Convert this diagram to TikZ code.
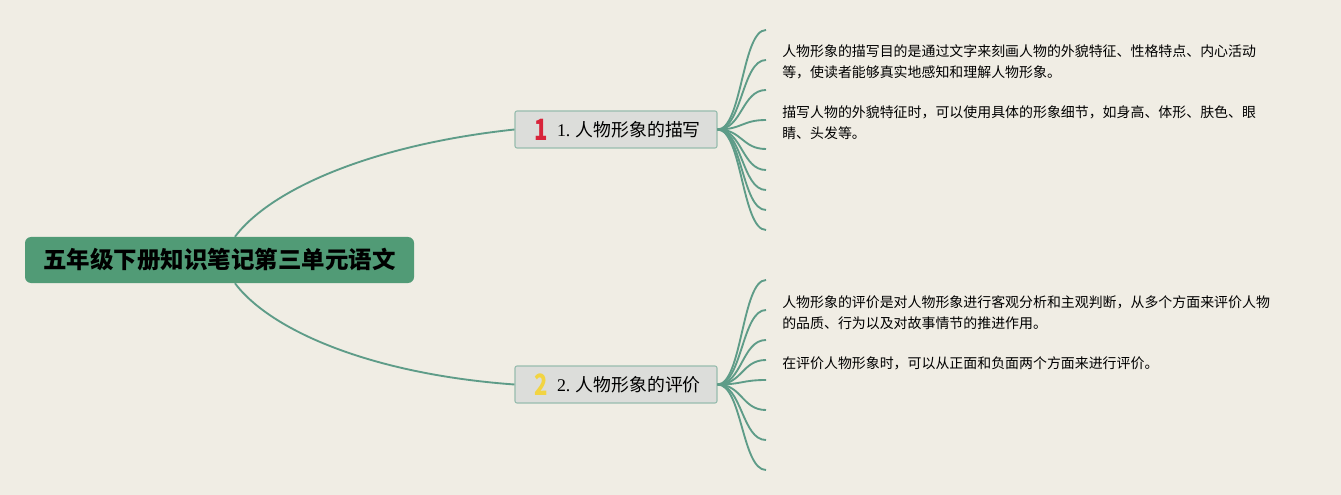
\documentclass[tikz,border=0pt]{standalone}
\usepackage{fontspec}
\setmainfont{Noto Sans CJK SC}
\newfontfamily\cjk{Noto Sans CJK SC}
\newfontfamily\numfont{Liberation Serif}
\usepackage{xcolor}
\usepackage{tikz}
\usetikzlibrary{positioning,calc}
\definecolor{bgcol}{HTML}{F0EDE4}
\definecolor{linkcol}{HTML}{5E9C88}
\definecolor{rootcol}{HTML}{519B76}
\definecolor{subcol}{HTML}{DCDDDA}
\definecolor{subline}{HTML}{97BCAE}
\definecolor{iconred}{HTML}{D8243A}
\definecolor{iconyel}{HTML}{F2D442}
\tikzset{
  root/.style={fill=rootcol,rounded corners=4.5pt,minimum width=291.75pt,
              minimum height=34.5pt,font=\cjk\fontsize{17.6}{20}\selectfont\bfseries},
  topic/.style={draw=subline,fill=subcol,thick,rounded corners=1.5pt,
              minimum width=151.5pt,minimum height=27.75pt,inner sep=0pt,
              font=\cjk\fontsize{13.4}{15}\selectfont},
  note/.style={anchor=north west,inner sep=0pt,align=left,
              font=\cjk\fontsize{10.45}{15.75}\selectfont},
  icon/.style={font=\cjk\fontsize{22}{22}\selectfont\bfseries,inner sep=0pt,xscale=0.75},
  branch/.style={linkcol,line width=1.4pt},
  twig/.style={linkcol,line width=1.4pt},
}
\newcommand{\topictext}[2]{\makebox[151.5pt][l]{\hspace*{31.5pt}{\numfont #1} #2}}

\begin{document}
\begin{tikzpicture}[x=0.75pt,y=-0.75pt]
  \fill[bgcol] (0,0) rectangle (1341,495);
  \useasboundingbox (0,0) rectangle (1341,495);

  \node[root] (root) at (219.5,260) {五年级下册知识笔记第三单元语文};
  \node[topic] (t1) at (616,129.5) {\topictext{1.}{人物形象的描写}};
  \node[topic] (t2) at (616,384.5) {\topictext{2.}{人物形象的评价}};
  \node[icon,text=iconred] (i1) at (541,130) {1};
  \node[icon,text=iconyel] (i2) at (541,385) {2};

  % main branches
  \draw[branch] ([xshift=11.6pt]root.north) .. controls (270,190) and (370,145) .. (t1.west);
  \draw[branch] ([xshift=11.6pt]root.south) .. controls (270,330) and (370,374) .. (t2.west);

  % twigs
  \foreach \y [count=\i] in {30,60,90,120,149,170,190,210,230}{
    \coordinate (a\i) at (766,\y);
    \draw[twig] (t1.east) .. controls (742,129.5) and (742,\y) .. (a\i);
  }
  \foreach \y [count=\i] in {280,310,340,360,380,410,440,470}{
    \coordinate (b\i) at (766,\y);
    \draw[twig] (t2.east) .. controls (742,384.5) and (742,\y) .. (b\i);
  }

  % notes
  \node[note] (n1) at (782,44) {人物形象的描写目的是通过文字来刻画人物的外貌特征、性格特点、内心活动\\等，使读者能够真实地感知和理解人物形象。};
  \node[note] (n2) at (782,105) {描写人物的外貌特征时，可以使用具体的形象细节，如身高、体形、肤色、眼\\睛、头发等。};
  \node[note] (n3) at (782,295) {人物形象的评价是对人物形象进行客观分析和主观判断，从多个方面来评价人物\\的品质、行为以及对故事情节的推进作用。};
  \node[note] (n4) at (782,356) {在评价人物形象时，可以从正面和负面两个方面来进行评价。};
\end{tikzpicture}
\end{document}
